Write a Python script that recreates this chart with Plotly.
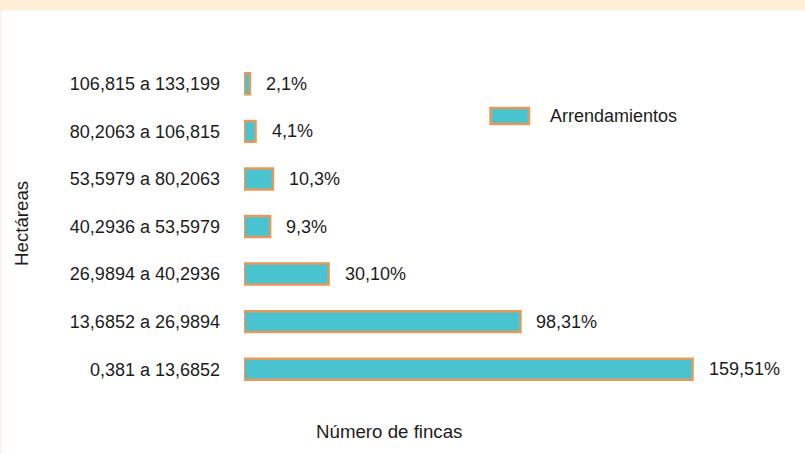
import plotly.graph_objects as go

# Hectare ranges (bottom to top) and number of leased farms per range
rangos = [
    "0,381 a 13,6852",
    "13,6852 a 26,9894",
    "26,9894 a 40,2936",
    "40,2936 a 53,5979",
    "53,5979 a 80,2063",
    "80,2063 a 106,815",
    "106,815 a 133,199",
]
arrendamientos = [159.51, 98.31, 30.10, 9.3, 10.3, 4.1, 2.1]
etiquetas = ["159,51%", "98,31%", "30,10%", "9,3%", "10,3%", "4,1%", "2,1%"]
serie = "Arrendamientos"

W, H = 805, 454
ML, MR, MT, MB = 244, 20, 60, 61
PW, PH = W - ML - MR, H - MT - MB

FONT = "Liberation Sans, Arial, Helvetica, sans-serif"
FS = 18
FS_TITLE = 18.7
TXT = "#1c1c1c"
FILL = "#4ac3d0"
EDGE = "#e59a5c"
CREAM = "#ffefd8"


def px_to_paper_x(px):
    return (px - ML) / PW


def px_to_paper_y(py):
    return (H - MB - py) / PH


fig = go.Figure()
fig.add_trace(go.Bar(
    x=arrendamientos,
    y=rangos,
    orientation="h",
    name=serie,
    width=0.44,
    marker=dict(color=FILL, line=dict(color=EDGE, width=2.5)),
    showlegend=False,
    hoverinfo="skip",
))

annotations = []
for v, cat, t in zip(arrendamientos, rangos, etiquetas):
    annotations.append(dict(
        x=v, y=cat, text=t, showarrow=False, xanchor="left", yanchor="middle",
        xshift=14, font=dict(family=FONT, size=FS, color=TXT),
    ))

# axis titles
annotations.append(dict(
    x=px_to_paper_x(389), y=px_to_paper_y(432), xref="paper", yref="paper",
    text="Número de fincas", showarrow=False, xanchor="center", yanchor="middle",
    font=dict(family=FONT, size=FS_TITLE, color=TXT),
))
annotations.append(dict(
    x=px_to_paper_x(21), y=px_to_paper_y(224), xref="paper", yref="paper",
    text="Hectáreas", showarrow=False, xanchor="center", yanchor="middle",
    textangle=-90, font=dict(family=FONT, size=FS_TITLE, color=TXT),
))
# legend label
annotations.append(dict(
    x=px_to_paper_x(548), y=px_to_paper_y(116), xref="paper", yref="paper",
    text=serie, showarrow=False, xanchor="left", yanchor="middle",
    font=dict(family=FONT, size=FS, color=TXT),
))

shapes = [
    # cream frame along the top and left edge of the page
    dict(type="rect", xref="paper", yref="paper", layer="below",
         x0=px_to_paper_x(0), x1=px_to_paper_x(W),
         y0=px_to_paper_y(10.5), y1=px_to_paper_y(0),
         fillcolor=CREAM, line=dict(width=0)),
    dict(type="rect", xref="paper", yref="paper", layer="below",
         x0=px_to_paper_x(0), x1=px_to_paper_x(1.2),
         y0=px_to_paper_y(H), y1=px_to_paper_y(0),
         fillcolor=CREAM, line=dict(width=0)),
    # legend swatch
    dict(type="rect", xref="paper", yref="paper",
         x0=px_to_paper_x(490.5), x1=px_to_paper_x(529),
         y0=px_to_paper_y(124), y1=px_to_paper_y(108),
         fillcolor=FILL, line=dict(color=EDGE, width=2.5)),
]

fig.update_layout(
    width=W, height=H,
    margin=dict(l=ML, r=MR, t=MT, b=MB, pad=0),
    paper_bgcolor="white", plot_bgcolor="white",
    font=dict(family=FONT, size=FS, color=TXT),
    xaxis=dict(range=[0, PW / 2.812], showgrid=False, zeroline=False,
               showticklabels=False, showline=False, ticks="", fixedrange=True),
    yaxis=dict(type="category", categoryorder="array", categoryarray=rangos,
               range=[-0.5, 6.5], showgrid=False, zeroline=False, showline=False,
               ticks="", ticklabelstandoff=23,
               tickfont=dict(family=FONT, size=FS, color=TXT), fixedrange=True),
    annotations=annotations,
    shapes=shapes,
    showlegend=False,
)

fig.write_html("out.html")
